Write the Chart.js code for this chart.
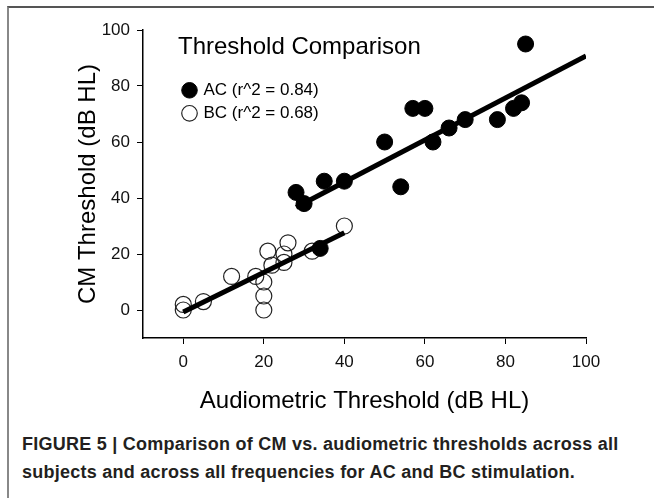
<!DOCTYPE html>
<html lang="en">
<head>
    <meta charset="UTF-8">
    <title>Threshold Comparison</title>
    <script src="https://cdn.jsdelivr.net/npm/chart.js"></script>
    <style>
        body { margin: 0; background: #fff; }
        #page { position: relative; width: 654px; height: 498px; overflow: hidden; }
        #frame { position: absolute; left: 7px; top: 6px; right: 0; bottom: 0;
                 border-top: 2px solid #555; border-left: 2px solid #888; }
        #chart { position: absolute; left: 0; top: 0; }
        #caption { position: absolute; left: 22px; top: 430px; width: 630px;
                   font-family: "Liberation Sans", Arial, sans-serif; font-weight: bold;
                   font-size: 18px; letter-spacing: 0.25px; line-height: 28px; color: #231f20; }
    </style>
</head>
<body>
    <div id="page">
        <div id="frame"></div>
        <canvas id="chart" width="654" height="420"></canvas>
        <div id="caption">FIGURE 5 | Comparison of CM vs. audiometric thresholds across all<br>subjects and across all frequencies for AC and BC stimulation.</div>
    </div>

    <script>
        // values
        const acX = [85, 84, 82, 78, 70, 66, 62, 60, 57, 50, 54, 40, 35, 28, 30, 34];
        const acY = [95, 74, 72, 68, 68, 65, 60, 72, 72, 60, 44, 46, 46, 42, 38, 22];
        const bcX = [0, 0, 5, 12, 18, 20, 20, 20, 21, 22, 25, 25, 26, 32, 40];
        const bcY = [0, 2, 3, 12, 12, 10, 5, 0, 21, 16, 20, 17, 24, 21, 30];
        const acFitX = [28, 100];
        const acFitY = [36.7, 90.7];
        const bcFitX = [0, 40];
        const bcFitY = [-0.7, 27.6];
        const xTicks = [0, 20, 40, 60, 80, 100];
        const yTicks = [0, 20, 40, 60, 80, 100];

        const toPoints = (xs, ys) => xs.map((x, i) => ({ x: x, y: ys[i] }));
        const font = '"Liberation Sans", Arial, sans-serif';

        // put the legend box in the upper left of the plot
        const legendPlace = {
            id: 'legendPlace',
            afterLayout(chart) {
                const lg = chart.legend;
                lg.left = 178; lg.right = 440; lg.width = 262;
                lg.top = 30; lg.bottom = 220; lg.height = 190;
            }
        };

        const fixedTicks = list => scale => {
            scale.ticks = list.map(v => ({ value: v }));
        };

        new Chart(document.getElementById('chart'), {
            type: 'scatter',
            data: {
                datasets: [
                    {
                        label: 'AC (r^2 = 0.84)',
                        data: toPoints(acX, acY),
                        pointRadius: 8,
                        backgroundColor: '#000',
                        borderColor: '#000',
                        borderWidth: 1,
                        order: 1
                    },
                    {
                        label: 'BC (r^2 = 0.68)',
                        data: toPoints(bcX, bcY),
                        pointRadius: 8,
                        backgroundColor: 'rgba(255,255,255,0)',
                        borderColor: '#222',
                        borderWidth: 1.2,
                        order: 1
                    },
                    {
                        label: 'acFit',
                        data: toPoints(acFitX, acFitY),
                        showLine: true,
                        pointRadius: 0,
                        borderColor: '#000',
                        borderWidth: 5,
                        order: 0
                    },
                    {
                        label: 'bcFit',
                        data: toPoints(bcFitX, bcFitY),
                        showLine: true,
                        pointRadius: 0,
                        borderColor: '#000',
                        borderWidth: 5,
                        order: 0
                    }
                ]
            },
            options: {
                responsive: false,
                animation: false,
                devicePixelRatio: 1,
                layout: { padding: { left: 70, right: 68, top: 30, bottom: 0 } },
                scales: {
                    x: {
                        type: 'linear',
                        min: -10,
                        max: 100,
                        afterBuildTicks: fixedTicks(xTicks),
                        afterFit: scale => { scale.height = 82; },
                        grid: { drawOnChartArea: false, tickLength: 6, color: '#000', tickWidth: 1 },
                        border: { color: '#000', width: 1.5 },
                        ticks: { color: '#111', padding: 8, font: { family: font, size: 17 } },
                        title: {
                            display: true,
                            text: 'Audiometric Threshold (dB HL)',
                            color: '#000',
                            padding: { top: 0, bottom: 4 },
                            font: { family: font, size: 24 }
                        }
                    },
                    y: {
                        type: 'linear',
                        min: -10,
                        max: 100,
                        afterBuildTicks: fixedTicks(yTicks),
                        afterFit: scale => { scale.width = 73; },
                        grid: { drawOnChartArea: false, tickLength: 6, color: '#000', tickWidth: 1 },
                        border: { color: '#000', width: 1.5 },
                        ticks: { color: '#111', padding: 7, font: { family: font, size: 17 } },
                        title: {
                            display: true,
                            text: 'CM Threshold (dB HL)',
                            color: '#000',
                            padding: { top: 4, bottom: 0 },
                            font: { family: font, size: 24 }
                        }
                    }
                },
                plugins: {
                    tooltip: { enabled: false },
                    legend: {
                        position: 'chartArea',
                        align: 'start',
                        title: {
                            display: true,
                            text: 'Threshold Comparison',
                            position: 'start',
                            color: '#000',
                            padding: { top: 5, bottom: 12 },
                            font: { family: font, size: 24 }
                        },
                        labels: {
                            usePointStyle: true,
                            boxWidth: 11,
                            boxHeight: 11,
                            padding: 6,
                            color: '#000',
                            font: { family: font, size: 17 },
                            filter: item => item.datasetIndex < 2
                        }
                    }
                }
            },
            plugins: [legendPlace]
        });
    </script>
</body>
</html>
